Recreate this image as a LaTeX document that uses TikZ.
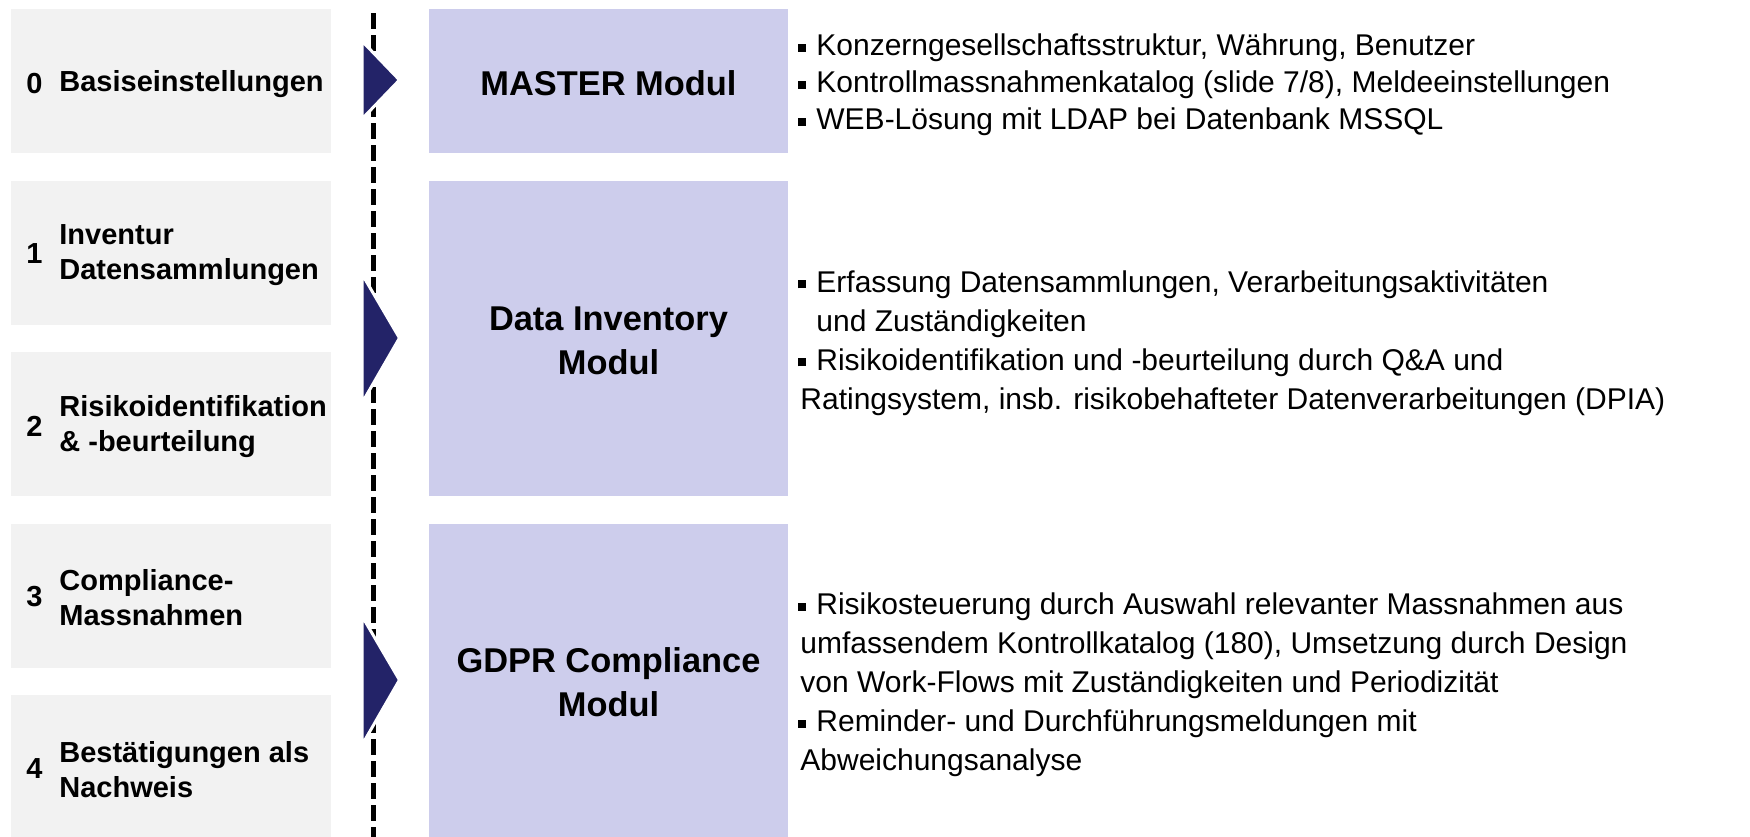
\documentclass[tikz,border=0pt]{standalone}
\usepackage{fontspec}
\setmainfont{Liberation Sans}
\definecolor{navy}{RGB}{35,35,104}
\definecolor{lav}{RGB}{205,205,236}
\definecolor{lgray}{RGB}{242,242,242}
\newcommand\bul{\rule[1.9pt]{4pt}{4pt}\hspace{5pt}}
\begin{document}
\begin{tikzpicture}[x=0.5pt,y=-0.5pt,
  stepbox/.style={fill=lgray, draw=none},
  modbox/.style={fill=lav, draw=none},
  num/.style={anchor=west, inner sep=0pt, font=\bfseries\fontsize{14.5}{17.5}\selectfont},
  lbl/.style={anchor=west, inner sep=0pt, align=left, font=\bfseries\fontsize{14.5}{17.5}\selectfont},
  modt/.style={align=center, inner sep=0pt, font=\bfseries\fontsize{17.2}{22}\selectfont},
  desc/.style={anchor=west, inner sep=0pt, align=left, font=\fontsize{15}{19.5}\selectfont},
  tri/.style={fill=navy, draw=white, line width=1.5pt, line join=miter},
  vline/.style={line width=2.65pt, dash pattern=on 8pt off 3pt}]
\useasboundingbox (0,0) rectangle (1750,836);
\clip (0,0) rectangle (1750,836);

% left step boxes
\path[stepbox] (11,9) rectangle (331,153);
\path[stepbox] (11,180.5) rectangle (331,324.5);
\path[stepbox] (11,352) rectangle (331,496);
\path[stepbox] (11,523.5) rectangle (331,667.5);
\path[stepbox] (11,695) rectangle (331,839);

\node[num] (n0) at (26,84) {0};
\node[lbl] (l0) at (59,84) {Basiseinstellungen};
\node[num] (n1) at (26,254) {1};
\node[lbl] (l1) at (59,255) {Inventur\\Datensammlungen};
\node[num] (n2) at (26,426) {2};
\node[lbl] (l2) at (59,427) {Risikoidentifikation\\\& -beurteilung};
\node[num] (n3) at (26,597) {3};
\node[lbl] (l3) at (59,598) {Compliance-\\Massnahmen};
\node[num] (n4) at (26,769) {4};
\node[lbl] (l4) at (59,770) {Bestätigungen als\\Nachweis};

% dashed line
\coordinate (dtop) at (373.3,13);
\coordinate (dbot) at (373.3,850);
\draw[vline] (dtop) -- (dbot);

% triangles
\draw[tri] (362,41) -- (399.5,80) -- (362,119) -- cycle;
\draw[tri] (362,274) -- (399.5,338) -- (362,403) -- cycle;
\draw[tri] (362,616) -- (399.5,680) -- (362,745) -- cycle;

% module boxes
\path[modbox] (429,9) rectangle (788,153);
\path[modbox] (429,180.5) rectangle (788,496);
\path[modbox] (429,523.5) rectangle (788,841);

\node[modt] (m0) at (608.5,83) {MASTER Modul};
\node[modt] (m1) at (608.5,341) {Data Inventory\\Modul};
\node[modt] (m2) at (608.5,682) {GDPR Compliance\\Modul};

% descriptions
\node[desc, font=\fontsize{15}{18.5}\selectfont] (d0) at (798,85) {\bul Konzerngesellschaftsstruktur, Währung, Benutzer\\
\bul Kontrollmassnahmenkatalog (slide 7/8), Meldeeinstellungen\\
\bul WEB-Lösung mit LDAP bei Datenbank MSSQL};

\node[desc] (d1) at (798,343) {\bul Erfassung Datensammlungen, Verarbeitungsaktivitäten\\
\hspace*{9pt}und Zuständigkeiten\\
\bul Risikoidentifikation und -beurteilung durch Q\&A und\\
\hspace*{1pt}Ratingsystem, insb. risikobehafteter Datenverarbeitungen (DPIA)};

\node[desc] (d2) at (798,685) {\bul Risikosteuerung durch Auswahl relevanter Massnahmen aus\\
\hspace*{1pt}umfassendem Kontrollkatalog (180), Umsetzung durch Design\\
\hspace*{1pt}von Work-Flows mit Zuständigkeiten und Periodizität\\
\bul Reminder- und Durchführungsmeldungen mit\\
\hspace*{1pt}Abweichungsanalyse};
\end{tikzpicture}
\end{document}
